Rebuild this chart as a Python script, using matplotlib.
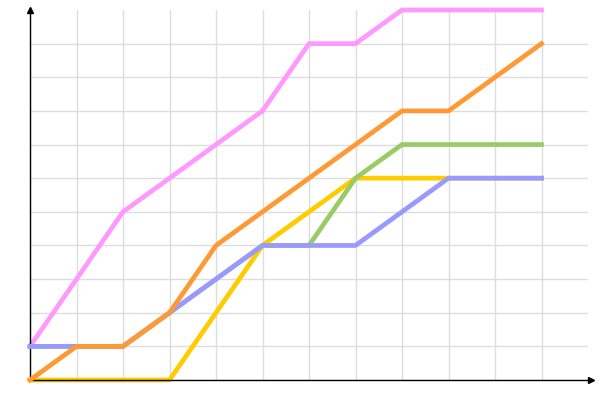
import matplotlib
matplotlib.use("Agg")
import matplotlib.pyplot as plt
import numpy as np

x = np.arange(12)
pink = [1, 3, 5, 6, 7, 8, 10, 10, 11, 11, 11, 11]
yellow = [0, 0, 0, 0, 2, 4, 5, 6, 6, 6, 6, 6]
green = [1, 1, 1, 2, 3, 4, 4, 6, 7, 7, 7, 7]
blue = [1, 1, 1, 2, 3, 4, 4, 4, 5, 6, 6, 6]
orange = [0, 1, 1, 2, 4, 5, 6, 7, 8, 8, 9, 10]

fig = plt.figure(figsize=(6, 4), dpi=100)
ax = fig.add_axes([0.05, 0.05, 0.93, 0.925])

lw = 3.4
ax.plot(x, pink, color="#ff99ff", lw=lw, zorder=2, clip_on=False)
ax.plot(x, green, color="#99cc66", lw=lw, zorder=3, clip_on=False)
ax.plot(x, yellow, color="#ffcc00", lw=lw, zorder=2.5, clip_on=False)
ax.plot(x, blue, color="#9999ff", lw=lw, zorder=4, clip_on=False)
ax.plot(x, orange, color="#ff9933", lw=lw, zorder=5, clip_on=False)

ax.set_xlim(0, 12)
ax.set_ylim(0, 11)
ax.set_xticks(np.arange(0, 12))
ax.set_yticks(np.arange(0, 11))
ax.grid(True, color="#dddddd", lw=1)
ax.set_axisbelow(True)
ax.tick_params(length=0, labelbottom=False, labelleft=False)
for s in ["top", "right"]:
    ax.spines[s].set_visible(False)
ax.spines["left"].set_linewidth(1)
ax.spines["bottom"].set_linewidth(1)

ax.plot(0, 1, marker="^", color="black", ms=4, transform=ax.transAxes, clip_on=False, zorder=6)
ax.plot(1.005, 0, marker=">", color="black", ms=4, transform=ax.transAxes, clip_on=False, zorder=6)

fig.savefig("out.png", dpi=100)
